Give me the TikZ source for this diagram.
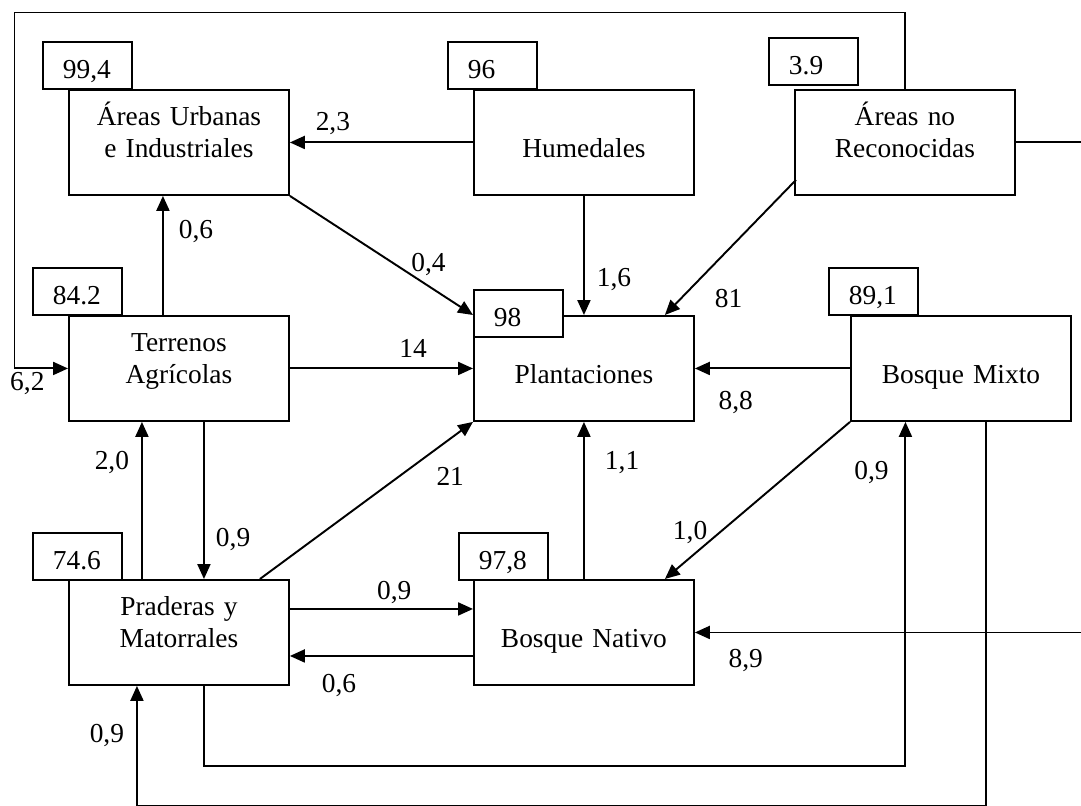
\documentclass[tikz,border=0pt]{standalone}
\usepackage{fontspec}
\setmainfont{Liberation Serif}
\usetikzlibrary{arrows.meta}
\begin{document}
\begin{tikzpicture}[x=0.02cm,y=-0.02cm,->,>={Triangle[length=8.5pt,width=7.4pt]},line width=1.1pt,
    font=\fontsize{15.6}{18.2}\selectfont,
    box/.style={draw,anchor=north west,inner sep=0pt,text width=4.4cm,align=center,text height=20.49pt,text depth=39.26pt},
    onebox/.style={box,text height=38.69pt,text depth=21.06pt},
    tag/.style={draw,fill=white,anchor=north west,inner xsep=0.4cm,inner ysep=0pt,text width=0.98cm,align=left,text height=21.06pt,text depth=5.69pt},
    lbl/.style={inner sep=0pt}]
      \useasboundingbox (0,0) rectangle (1081,805);
      \node[box] (urb) at (68,89) {Áreas Urbanas\\e Industriales};
      \node[onebox] (hum) at (473,89) {Humedales};
      \node[box] (nr) at (794,89) {Áreas no\\Reconocidas};
      \node[box] (ter) at (68,315) {Terrenos\\Agrícolas};
      \node[onebox] (plant) at (473,315) {Plantaciones};
      \node[onebox] (mix) at (850,315) {Bosque Mixto};
      \node[box] (prad) at (68,579) {Praderas y\\Matorrales};
      \node[onebox] (nat) at (473,579) {Bosque Nativo};
      \node[tag] (turb) at (42,41) {99,4};
      \node[tag] (thum) at (447,41) {96};
      \node[tag] (tnr) at (768,37) {3.9};
      \node[tag] (tter) at (32,267) {84.2};
      \node[tag] (tplant) at (473,289) {98};
      \node[tag] (tmix) at (828,267) {89,1};
      \node[tag] (tprad) at (32,532) {74.6};
      \node[tag] (tnat) at (458,532) {97,8};
      \coordinate (corner) at (14.5,12.5);
      \draw (hum) -- node[lbl,pos=0.765,above=3.6pt] (l23) {2,3} (urb);
      \draw ([shift={(-16,0)}]ter.north) -- node[lbl,pos=0.70,right=8.5pt] (l06a) {0,6} ([shift={(-16,0)}]urb.south);
      \draw (urb.south east) -- node[lbl,pos=0.757,above=5.5pt] (l04) {0,4} (plant.north west);
      \draw (hum) -- node[lbl,pos=0.70,right=6.8pt] (l16) {1,6} (plant);
      \draw ([shift={(2,-16)}]nr.south west) -- node[lbl,pos=0.88,right=19pt] (l81) {81} ([shift={(-30,0)}]plant.north east);
      \draw (ter) -- node[lbl,pos=0.673,above=5.7pt] (l14) {14} (plant);
      \draw (mix) -- node[lbl,pos=0.737,below=12.5pt] (l88) {8,8} (plant);
      \draw ([shift={(-30,0)}]prad.north east) -- node[lbl,pos=0.893,below=16pt] (l21) {21} (plant.south west);
      \draw ([shift={(-37,0)}]prad.north) -- node[lbl,pos=0.742,left=6.8pt] (l20) {2,0} ([shift={(-37,0)}]ter.south);
      \draw ([shift={(25,0)}]ter.south) -- node[lbl,pos=0.748,right=6.3pt] (l09a) {0,9} ([shift={(25,0)}]prad.north);
      \draw (nat) -- node[lbl,pos=0.742,right=11.4pt] (l11) {1,1} (plant);
      \draw (mix.south west) -- node[lbl,pos=0.864,above=7.4pt] (l10) {1,0} ([shift={(-30,0)}]nat.north east);
      \draw ([shift={(0,-23.5)}]prad.east) -- node[lbl,pos=0.57,above=2.5pt] (l09b) {0,9} ([shift={(0,-23.5)}]nat.west);
      \draw ([shift={(0,23.5)}]nat.west) -- node[lbl,pos=0.732,below=9.7pt] (l06b) {0,6} ([shift={(0,23.5)}]prad.east);
      \draw ([shift={(25,0)}]prad.south) -- ++(0,80) -| node[lbl,pos=0.926,left=9pt] (l09c) {0,9} ([shift={(-55.5,0)}]mix.south);
      \draw ([shift={(25.5,0)}]mix.south) -- ++(0,384) -| node[lbl,pos=0.795,left=6.8pt] (l09d) {0,9} ([shift={(-42,0)}]prad.south);
      \draw (nr.east) -- ++(70,0) |- node[lbl,pos=0.935,below=9.1pt] (l89) {8,9} (nat.east);
      \draw (nr.north) |- (corner) |- node[lbl,pos=0.62,below=1.5pt] (l62) {6,2} (ter.west);
    \end{tikzpicture}
\end{document}
